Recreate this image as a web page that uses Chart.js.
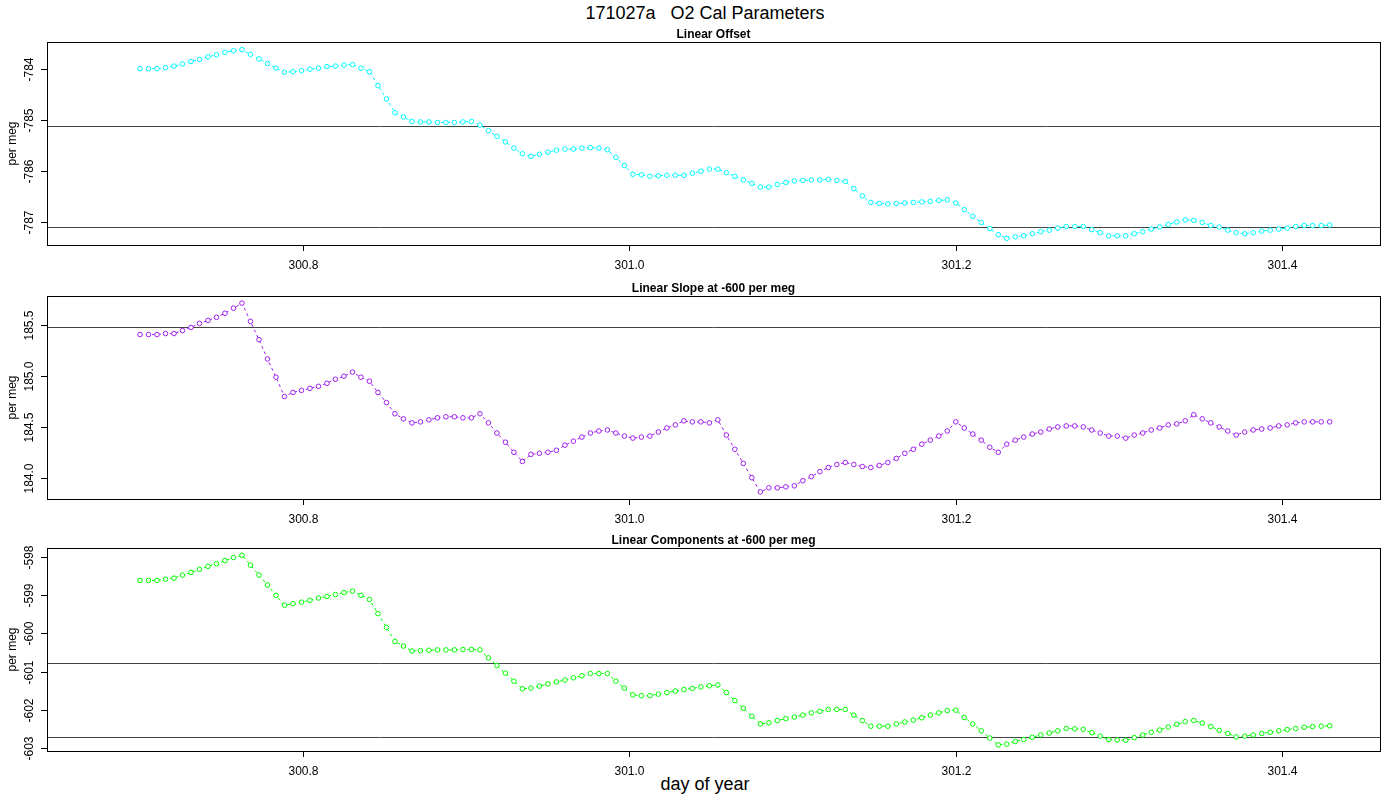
<!DOCTYPE html>
<html>
<head>
<meta charset="utf-8">
<script src="https://cdn.jsdelivr.net/npm/chart.js@4/dist/chart.umd.min.js"></script>
<style>
  body { margin: 0; background: #fff; width: 1400px; height: 800px; position: relative; overflow: hidden;
         font-family: "Liberation Sans", Arial, sans-serif; }
  canvas { position: absolute; left: 0; }
  .txt { position: absolute; white-space: pre; color: #000; transform: translateX(-50%); }
</style>
</head>
<body>
<div class="txt" style="left:705px; top:3px; font-size:18px;">171027a   O2 Cal Parameters</div>
<div class="txt" style="left:705px; top:774px; font-size:18px;">day of year</div>
<canvas id="c1" width="1400" height="262" style="top:20px"></canvas>
<canvas id="c2" width="1400" height="262" style="top:274px"></canvas>
<canvas id="c3" width="1400" height="262" style="top:526px"></canvas>
<script>
// sampling: one cal every 7.5 minutes (1/192 day) starting at day 300.7
const startDay = 300.7;
const sampleStep = 1 / 192;

const xTicks = [300.8, 301.0, 301.2, 301.4];

const offsetValues = [
  -784.00, -784.00, -784.00, -783.98, -783.95, -783.91, -783.86, -783.82, -783.77, -783.73,
  -783.68, -783.65, -783.63, -783.72, -783.81, -783.90, -783.99, -784.07, -784.06, -784.04,
  -784.01, -783.99, -783.96, -783.95, -783.93, -783.92, -783.99, -784.06, -784.33, -784.59,
  -784.86, -784.94, -785.03, -785.04, -785.04, -785.05, -785.05, -785.05, -785.04, -785.03,
  -785.10, -785.21, -785.32, -785.43, -785.55, -785.66, -785.71, -785.67, -785.63, -785.59,
  -785.57, -785.57, -785.55, -785.54, -785.55, -785.58, -785.73, -785.89, -786.06, -786.07,
  -786.10, -786.09, -786.08, -786.08, -786.08, -786.04, -786.00, -785.96, -785.96, -786.03,
  -786.10, -786.17, -786.24, -786.31, -786.31, -786.26, -786.22, -786.19, -786.18, -786.17,
  -786.17, -786.16, -786.18, -786.20, -786.34, -786.48, -786.61, -786.63, -786.64, -786.63,
  -786.62, -786.61, -786.60, -786.59, -786.57, -786.56, -786.62, -786.75, -786.88, -787.00,
  -787.12, -787.24, -787.31, -787.28, -787.26, -787.22, -787.18, -787.15, -787.11, -787.08,
  -787.08, -787.08, -787.14, -787.20, -787.26, -787.26, -787.26, -787.22, -787.18, -787.13,
  -787.09, -787.04, -786.99, -786.95, -786.96, -787.00, -787.06, -787.09, -787.15, -787.20,
  -787.22, -787.20, -787.17, -787.15, -787.13, -787.11, -787.08, -787.06, -787.06, -787.06,
  -787.05
];

const slopeValues = [
  185.41, 185.41, 185.41, 185.42, 185.42, 185.45, 185.48, 185.52, 185.55, 185.58,
  185.62, 185.67, 185.72, 185.54, 185.36, 185.17, 184.99, 184.80, 184.84, 184.86,
  184.88, 184.90, 184.93, 184.97, 185.00, 185.04, 184.99, 184.95, 184.84, 184.74,
  184.63, 184.58, 184.54, 184.55, 184.57, 184.59, 184.60, 184.60, 184.59, 184.59,
  184.63, 184.54, 184.44, 184.35, 184.25, 184.16, 184.23, 184.24, 184.25, 184.27,
  184.32, 184.36, 184.40, 184.44, 184.46, 184.47, 184.44, 184.41, 184.39, 184.40,
  184.41, 184.45, 184.49, 184.52, 184.56, 184.55, 184.55, 184.54, 184.57, 184.42,
  184.28, 184.14, 184.00, 183.86, 183.90, 183.90, 183.91, 183.92, 183.97, 184.01,
  184.06, 184.10, 184.13, 184.15, 184.13, 184.11, 184.10, 184.12, 184.15, 184.19,
  184.24, 184.28, 184.33, 184.37, 184.41, 184.46, 184.55, 184.49, 184.43, 184.37,
  184.30, 184.25, 184.33, 184.37, 184.40, 184.43, 184.45, 184.48, 184.50, 184.51,
  184.51, 184.50, 184.47, 184.44, 184.41, 184.41, 184.39, 184.42, 184.44, 184.47,
  184.49, 184.52, 184.53, 184.56, 184.62, 184.58, 184.54, 184.50, 184.46, 184.42,
  184.45, 184.47, 184.48, 184.49, 184.51, 184.52, 184.54, 184.55, 184.55, 184.55,
  184.55
];

const componentValues = [
  -598.61, -598.61, -598.61, -598.58, -598.55, -598.47, -598.40, -598.32, -598.24, -598.17,
  -598.09, -598.01, -597.95, -598.21, -598.47, -598.73, -599.00, -599.26, -599.22, -599.18,
  -599.13, -599.07, -599.03, -598.98, -598.93, -598.89, -599.00, -599.11, -599.48, -599.84,
  -600.21, -600.33, -600.46, -600.45, -600.44, -600.43, -600.43, -600.43, -600.42, -600.42,
  -600.43, -600.64, -600.84, -601.04, -601.25, -601.45, -601.43, -601.38, -601.32, -601.27,
  -601.22, -601.16, -601.11, -601.05, -601.05, -601.05, -601.25, -601.43, -601.61, -601.63,
  -601.63, -601.59, -601.55, -601.51, -601.47, -601.44, -601.40, -601.37, -601.35, -601.55,
  -601.76, -601.96, -602.17, -602.37, -602.34, -602.28, -602.23, -602.19, -602.14, -602.08,
  -602.04, -601.99, -601.99, -601.99, -602.14, -602.28, -602.43, -602.43, -602.43, -602.37,
  -602.32, -602.27, -602.21, -602.14, -602.08, -602.02, -602.01, -602.20, -602.37, -602.55,
  -602.74, -602.92, -602.90, -602.83, -602.78, -602.72, -602.66, -602.61, -602.55, -602.49,
  -602.50, -602.51, -602.60, -602.69, -602.78, -602.79, -602.80, -602.73, -602.66, -602.59,
  -602.53, -602.45, -602.38, -602.31, -602.28, -602.35, -602.44, -602.54, -602.62, -602.71,
  -602.69, -602.66, -602.62, -602.59, -602.55, -602.52, -602.49, -602.46, -602.44, -602.43,
  -602.42
];

const offsetTicks = [-784, -785, -786, -787];
const slopeTicks = [184.0, 184.5, 185.0, 185.5];
const componentTicks = [-598, -599, -600, -601, -602, -603];

const offsetRefLines = [-785.12, -787.08];
const slopeRefLines = [185.48];
const componentRefLines = [-600.78, -602.72];

const FONT = '"Liberation Sans", Arial, sans-serif';

// R-style frame, ticks, labels and reference lines
const rFrame = {
    id: 'rFrame',
    beforeDatasetsDraw(chart, args, opts) {
        const { ctx, chartArea: a, scales: { y } } = chart;
        ctx.save();
        ctx.strokeStyle = '#444';
        ctx.lineWidth = 1;
        opts.refLines.forEach(v => {
            const py = Math.round(y.getPixelForValue(v)) + 0.5;
            ctx.beginPath();
            ctx.moveTo(a.left, py);
            ctx.lineTo(a.right, py);
            ctx.stroke();
        });
        ctx.restore();
    },
    afterDraw(chart, args, opts) {
        const { ctx, chartArea: a, scales: { x, y } } = chart;
        ctx.save();
        ctx.strokeStyle = '#000';
        ctx.fillStyle = '#000';
        ctx.lineWidth = 1;
        ctx.strokeRect(a.left + 0.5, a.top + 0.5, a.right - a.left, a.bottom - a.top);

        ctx.font = '12px ' + FONT;
        ctx.textAlign = 'center';
        ctx.textBaseline = 'top';
        xTicks.forEach(v => {
            const px = Math.round(x.getPixelForValue(v)) + 0.5;
            ctx.beginPath();
            ctx.moveTo(px, a.bottom);
            ctx.lineTo(px, a.bottom + 6);
            ctx.stroke();
            ctx.fillText(v.toFixed(1), px, a.bottom + 15);
        });

        opts.yTicks.forEach(v => {
            const py = Math.round(y.getPixelForValue(v)) + 0.5;
            ctx.beginPath();
            ctx.moveTo(a.left, py);
            ctx.lineTo(a.left - 6, py);
            ctx.stroke();
            ctx.save();
            ctx.translate(a.left - 11, py);
            ctx.rotate(-Math.PI / 2);
            ctx.textBaseline = 'bottom';
            ctx.fillText(opts.yFmt(v), 0, 0);
            ctx.restore();
        });

        ctx.save();
        ctx.translate(19, (a.top + a.bottom) / 2);
        ctx.rotate(-Math.PI / 2);
        ctx.textBaseline = 'bottom';
        ctx.fillText('per meg', 0, 0);
        ctx.restore();

        ctx.font = 'bold 12px ' + FONT;
        ctx.textBaseline = 'bottom';
        ctx.fillText(opts.title, (a.left + a.right) / 2, a.top - 1);
        ctx.restore();
    }
};

function makePanel(id, values, color, yMin, yMax, yTicks, yFmt, refLines, title) {
    const pts = values.map((v, i) => ({ x: startDay + i * sampleStep, y: v }));
    new Chart(document.getElementById(id), {
        type: 'line',
        data: {
            datasets: [{
                data: pts,
                borderColor: color,
                borderWidth: 1,
                borderDash: [3, 3],
                pointRadius: 2.3,
                pointBorderWidth: 1,
                pointBorderColor: color,
                pointBackgroundColor: '#fff',
                tension: 0
            }]
        },
        options: {
            responsive: false,
            animation: false,
            layout: { padding: { left: 47, right: 20, top: 22, bottom: 37 } },
            plugins: {
                legend: { display: false },
                tooltip: { enabled: false },
                rFrame: { yTicks, yFmt, refLines, title }
            },
            scales: {
                x: { type: 'linear', min: 300.643, max: 301.46, display: false },
                y: { min: yMin, max: yMax, display: false }
            }
        },
        plugins: [rFrame]
    });
}

makePanel('c1', offsetValues, '#00ffff', -787.44, -783.48, offsetTicks, v => String(v), offsetRefLines, 'Linear Offset');
makePanel('c2', slopeValues, '#a020f0', 183.79, 185.79, slopeTicks, v => v.toFixed(1), slopeRefLines, 'Linear Slope at -600 per meg');
makePanel('c3', componentValues, '#00ff00', -603.08, -597.76, componentTicks, v => String(v), componentRefLines, 'Linear Components at -600 per meg');
</script>
</body>
</html>
